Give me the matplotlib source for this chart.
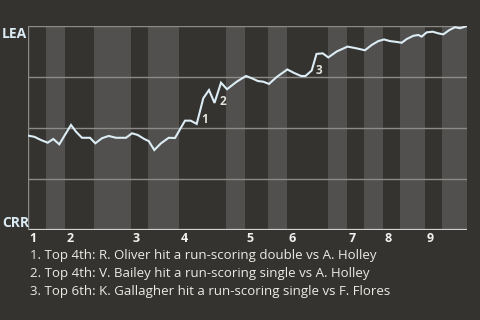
import matplotlib
matplotlib.use("Agg")
import matplotlib.pyplot as plt

# half-inning boundaries along the game axis
half_edges = [0, 18, 37, 66, 103, 120, 151, 198, 217, 240, 259, 300, 319, 336, 355, 372, 397, 414, 439]
innings = ["1", "2", "3", "4", "5", "6", "7", "8", "9"]

# win probability for LEA along the game
prog = [0.7, 6.3, 13, 19.7, 25.3, 31.3, 37.3, 43, 48, 54, 62, 67.3, 74, 80.7, 88, 98,
        104, 109.7, 116.3, 120.7, 126.3, 133, 140.7, 147, 157, 162.7, 168.7, 175.3,
        181, 186.5, 193, 199, 208.7, 218, 223.7, 230, 235.3, 241, 248.7, 259.3, 266,
        273, 277.5, 283.7, 288.5, 294.7, 300.3, 308.7, 319.5, 328, 337, 343.7, 350.3,
        356, 362, 367, 373.7, 378.7, 385.3, 390.3, 393.7, 398.7, 404.7, 410.3, 415.3,
        421.3, 427, 432, 435.3, 439]
wp = [0.462, 0.457, 0.441, 0.428, 0.446, 0.420, 0.469, 0.515, 0.482, 0.452, 0.452,
      0.425, 0.450, 0.461, 0.452, 0.452, 0.474, 0.466, 0.446, 0.436, 0.392, 0.425,
      0.452, 0.451, 0.536, 0.536, 0.520, 0.646, 0.686, 0.623, 0.722, 0.690, 0.727,
      0.755, 0.744, 0.730, 0.727, 0.716, 0.750, 0.787, 0.770, 0.755, 0.755, 0.782,
      0.863, 0.866, 0.846, 0.875, 0.899, 0.891, 0.881, 0.907, 0.926, 0.934, 0.926,
      0.923, 0.918, 0.936, 0.952, 0.956, 0.948, 0.969, 0.972, 0.964, 0.959, 0.980,
      0.994, 0.989, 0.994, 1.0]

# key plays
note_x = [177, 195.3, 291.3]
note_y = [0.543, 0.632, 0.784]
note_lbl = ["1", "2", "3"]
notes = [
    "1. Top 4th: R. Oliver hit a run-scoring double vs A. Holley",
    "2. Top 4th: V. Bailey hit a run-scoring single vs A. Holley",
    "3. Top 6th: K. Gallagher hit a run-scoring single vs F. Flores",
]

BG = "#353330"
BAND = "#51504e"
plt.rcParams["font.family"] = ["Open Sans", "DejaVu Sans"]

fig = plt.figure(figsize=(4.8, 3.2), dpi=100, facecolor=BG)
ax = fig.add_axes([28 / 480, 90 / 320, 439 / 480, 204 / 320])
ax.set_facecolor(BG)

for i in range(len(half_edges) - 1):
    if i % 2 == 1:
        ax.axvspan(half_edges[i], half_edges[i + 1], color=BAND, lw=0, zorder=0)

for y in [0.25, 0.5, 0.75, 1.0]:
    ax.axhline(y, color="#8c8b88", lw=1, zorder=1)
ax.axhline(0, color="#d0d0d0", lw=1.6, zorder=1)
ax.axvline(0, color="#8c8b88", lw=1, zorder=1)

ax.plot(prog, wp, color="#dcedf5", lw=1.5, zorder=3, solid_joinstyle="miter")

for x, y, t in zip(note_x, note_y, note_lbl):
    ax.text(x, y, t, color="#e4e1da", fontsize=8.5, fontweight="bold",
            ha="center", va="center", zorder=4)

ax.set_xlim(0, 439)
ax.set_ylim(0, 1)
ax.set_xticks([])
ax.set_yticks([])
for s in ax.spines.values():
    s.set_visible(False)

for k, name in enumerate(innings):
    x0 = half_edges[2 * k]
    fig.text((28 + x0 + 1.5) / 480, 1 - 242 / 320, name, color="#f2f2f2", fontsize=9,
             fontweight="bold", ha="left", va="baseline")

fig.text(2 / 480, 1 - 27 / 320, "LEA", color="#dcecf4", fontsize=10, fontweight="bold",
         ha="left", va="top")
fig.text(2 / 480, 1 - 227 / 320, "CRR", color="#dcecf4", fontsize=10, fontweight="bold",
         ha="left", va="baseline")

for j, line in enumerate(notes):
    fig.text(30 / 480, 1 - (259 + 18 * j) / 320, line, color="#ecebe6", fontsize=9.5,
             ha="left", va="baseline")

fig.savefig("out.png", dpi=100, facecolor=BG)
